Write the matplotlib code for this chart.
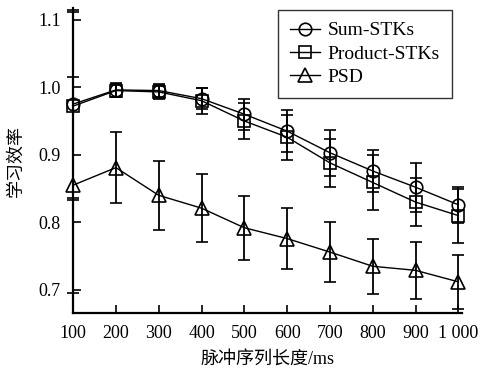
import matplotlib
matplotlib.use("Agg")
import matplotlib.pyplot as plt
from matplotlib.lines import Line2D

plt.rcParams['font.family'] = ['Liberation Serif', 'Noto Sans CJK SC']

lengths = [100, 200, 300, 400, 500, 600, 700, 800, 900, 1000]
tick_labels = ["100", "200", "300", "400", "500", "600", "700", "800", "900", "1 000"]

sum_stks = [0.975, 0.996, 0.995, 0.983, 0.960, 0.935, 0.903, 0.876, 0.852, 0.826]
sum_err = [0.139, 0.010, 0.010, 0.016, 0.023, 0.031, 0.034, 0.031, 0.036, 0.027]

prod_stks = [0.972, 0.995, 0.993, 0.980, 0.950, 0.926, 0.888, 0.859, 0.830, 0.810]
prod_err = [0.139, 0.010, 0.010, 0.019, 0.027, 0.033, 0.035, 0.040, 0.035, 0.040]

psd = [0.855, 0.881, 0.840, 0.821, 0.792, 0.776, 0.756, 0.735, 0.729, 0.712]
psd_err = [0.160, 0.053, 0.051, 0.050, 0.047, 0.045, 0.044, 0.041, 0.042, 0.040]

fig = plt.figure(figsize=(4.81, 3.69), dpi=100)
ax = fig.add_axes([0.152, 0.152, 0.808, 0.826])

common = dict(color='black', lw=1.0, capsize=4, elinewidth=1.3, capthick=1.3,
              mfc='none', mec='black', mew=1.2, clip_on=False)
series = [(sum_stks, sum_err, 'o', 9, 'Sum-STKs'),
          (prod_stks, prod_err, 's', 8, 'Product-STKs'),
          (psd, psd_err, '^', 10, 'PSD')]
handles = []
for vals, err, m, ms, lab in series:
    ax.errorbar(lengths, vals, yerr=err, marker=m, ms=ms, **common)
    handles.append(Line2D([], [], color='black', lw=1.0, marker=m, ms=ms,
                          mfc='none', mec='black', mew=1.2, label=lab))

ax.set_xlim(100, 1008)
ax.set_ylim(0.666, 1.117)
ax.set_xticks(lengths)
ax.set_xticklabels(tick_labels)
ax.set_yticks([0.7, 0.8, 0.9, 1.0, 1.1])
ax.set_yticklabels(["0.7", "0.8", "0.9", "1.0", "1.1"])
ax.tick_params(direction='in', length=6, width=1.2, labelsize=13, pad=9)

for s in ['top', 'right']:
    ax.spines[s].set_visible(False)
for s in ['left', 'bottom']:
    ax.spines[s].set_linewidth(1.6)

ax.set_xlabel('脉冲序列长度/ms', fontsize=13, labelpad=7)
ax.set_ylabel('学习效率', fontsize=13, labelpad=10)

leg = ax.legend(handles=handles, loc='upper left', bbox_to_anchor=(0.528, 0.995),
                fontsize=14, frameon=True, fancybox=False, edgecolor='black',
                handlelength=1.5, borderpad=0.62, labelspacing=0.3, handletextpad=0.4,
                borderaxespad=0)
leg.get_frame().set_linewidth(1.0)

fig.savefig('out.png', dpi=100)
